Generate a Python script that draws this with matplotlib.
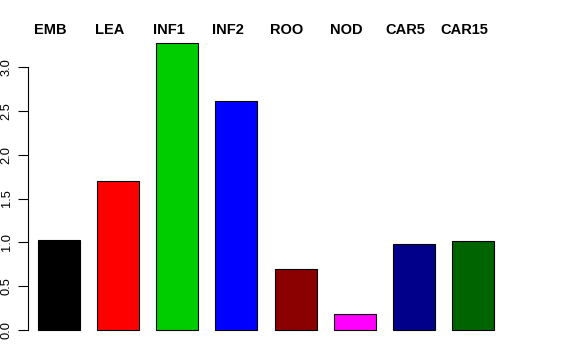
import matplotlib
matplotlib.use("Agg")
import matplotlib.pyplot as plt
import matplotlib.transforms as mtransforms

categories = ["EMB", "LEA", "INF1", "INF2", "ROO", "NOD", "CAR5", "CAR15"]
values = [1.03, 1.70, 3.27, 2.61, 0.70, 0.18, 0.98, 1.02]
colors = ["#000000", "#FF0000", "#00CD00", "#0000FF", "#8B0000", "#FF00FF", "#00008B", "#006400"]
yticks = [0.0, 0.5, 1.0, 1.5, 2.0, 2.5, 3.0]
ytick_labels = ["0.0", "0.5", "1.0", "1.5", "2.0", "2.5", "3.0"]

plt.rcParams['font.family'] = ['Liberation Sans', 'DejaVu Sans']

W, H = 576, 360
fig = plt.figure(figsize=(W / 100, H / 100), dpi=100)
ax = fig.add_axes([28 / W, 19 / H, (560 - 28) / W, 309 / H])

x = list(range(len(categories)))
ax.bar(x, values, width=0.71, color=colors, edgecolor="black", linewidth=0.8)

ax.set_xlim(-0.524, (560 - 59) / 59.14)
ax.set_ylim(-0.125, 3.40)

for s in ["top", "right", "bottom"]:
    ax.spines[s].set_visible(False)
ax.spines["left"].set_bounds(0, 3.0)
ax.spines["left"].set_linewidth(0.8)
ax.set_xticks([])
ax.set_yticks(yticks)
ax.set_yticklabels(ytick_labels, rotation=90, va="center", fontsize=9.3)
ax.tick_params(axis="y", length=7, width=0.8, pad=4)

trans = mtransforms.blended_transform_factory(ax.transData, ax.transAxes)
for xi, lab in zip(x, categories):
    ax.text(xi - 0.15, 0.9935, lab, transform=trans, ha="center", va="baseline",
            fontsize=10.5, fontweight="bold")

fig.savefig("out.png", dpi=100)
